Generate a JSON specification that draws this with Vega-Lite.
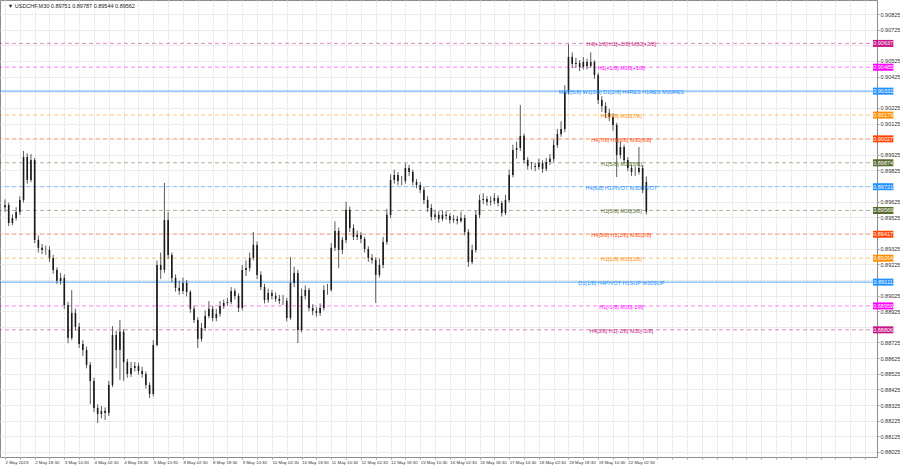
{
  "$schema": "https://vega.github.io/schema/vega-lite/v6.json",
  "width": 877,
  "height": 457,
  "autosize": {"type": "none"},
  "padding": {"left": 0, "top": 0, "right": 23, "bottom": 11},
  "background": "#ffffff",
  "config": {"view": {"stroke": "#8c8c8c", "strokeWidth": 1}, "font": "Liberation Sans"},
  "datasets": {
    "candles": [
      {"i":0,"o":0.89590,"h":0.89640,"l":0.89560,"c":0.89604},
      {"i":4,"o":0.89604,"h":0.89620,"l":0.89470,"c":0.89489},
      {"i":8,"o":0.89489,"h":0.89545,"l":0.89475,"c":0.89521},
      {"i":12,"o":0.89521,"h":0.89590,"l":0.89505,"c":0.89560},
      {"i":16,"o":0.89560,"h":0.89660,"l":0.89540,"c":0.89636},
      {"i":20,"o":0.89636,"h":0.89950,"l":0.89620,"c":0.89911},
      {"i":24,"o":0.89911,"h":0.89935,"l":0.89740,"c":0.89764},
      {"i":28,"o":0.89764,"h":0.89930,"l":0.89750,"c":0.89892},
      {"i":32,"o":0.89892,"h":0.89905,"l":0.89360,"c":0.89381},
      {"i":36,"o":0.89381,"h":0.89410,"l":0.89300,"c":0.89330},
      {"i":40,"o":0.89330,"h":0.89355,"l":0.89290,"c":0.89317},
      {"i":44,"o":0.89317,"h":0.89345,"l":0.89285,"c":0.89317},
      {"i":48,"o":0.89317,"h":0.89340,"l":0.89240,"c":0.89266},
      {"i":52,"o":0.89266,"h":0.89285,"l":0.89165,"c":0.89189},
      {"i":56,"o":0.89189,"h":0.89205,"l":0.89100,"c":0.89119},
      {"i":60,"o":0.89119,"h":0.89170,"l":0.89095,"c":0.89138},
      {"i":64,"o":0.89138,"h":0.89160,"l":0.88940,"c":0.88965},
      {"i":68,"o":0.88965,"h":0.88985,"l":0.88720,"c":0.88754},
      {"i":72,"o":0.88754,"h":0.89060,"l":0.88740,"c":0.88914},
      {"i":76,"o":0.88914,"h":0.88940,"l":0.88800,"c":0.88825},
      {"i":80,"o":0.88825,"h":0.88850,"l":0.88690,"c":0.88716},
      {"i":84,"o":0.88716,"h":0.88740,"l":0.88640,"c":0.88677},
      {"i":88,"o":0.88677,"h":0.88700,"l":0.88560,"c":0.88582},
      {"i":92,"o":0.88582,"h":0.88600,"l":0.88330,"c":0.88479},
      {"i":96,"o":0.88479,"h":0.88500,"l":0.88280,"c":0.88307},
      {"i":100,"o":0.88307,"h":0.88330,"l":0.88211,"c":0.88268},
      {"i":104,"o":0.88268,"h":0.88320,"l":0.88240,"c":0.88288},
      {"i":108,"o":0.88288,"h":0.88310,"l":0.88230,"c":0.88275},
      {"i":112,"o":0.88275,"h":0.88480,"l":0.88255,"c":0.88454},
      {"i":116,"o":0.88454,"h":0.88830,"l":0.88440,"c":0.88773},
      {"i":120,"o":0.88773,"h":0.88800,"l":0.88560,"c":0.88677},
      {"i":124,"o":0.88677,"h":0.88870,"l":0.88485,"c":0.88793},
      {"i":128,"o":0.88793,"h":0.88810,"l":0.88480,"c":0.88601},
      {"i":132,"o":0.88601,"h":0.88620,"l":0.88500,"c":0.88524},
      {"i":136,"o":0.88524,"h":0.88600,"l":0.88505,"c":0.88562},
      {"i":140,"o":0.88562,"h":0.88600,"l":0.88540,"c":0.88575},
      {"i":144,"o":0.88575,"h":0.88595,"l":0.88520,"c":0.88543},
      {"i":148,"o":0.88543,"h":0.88570,"l":0.88500,"c":0.88524},
      {"i":152,"o":0.88524,"h":0.88540,"l":0.88430,"c":0.88454},
      {"i":156,"o":0.88454,"h":0.88470,"l":0.88370,"c":0.88396},
      {"i":160,"o":0.88396,"h":0.88740,"l":0.88380,"c":0.88709},
      {"i":164,"o":0.88709,"h":0.89250,"l":0.88700,"c":0.89221},
      {"i":168,"o":0.89221,"h":0.89300,"l":0.89130,"c":0.89189},
      {"i":172,"o":0.89189,"h":0.89745,"l":0.89170,"c":0.89508},
      {"i":176,"o":0.89508,"h":0.89560,"l":0.89260,"c":0.89285},
      {"i":180,"o":0.89285,"h":0.89300,"l":0.89110,"c":0.89138},
      {"i":184,"o":0.89138,"h":0.89160,"l":0.89050,"c":0.89074},
      {"i":188,"o":0.89074,"h":0.89120,"l":0.89030,"c":0.89055},
      {"i":192,"o":0.89055,"h":0.89140,"l":0.89035,"c":0.89106},
      {"i":196,"o":0.89106,"h":0.89125,"l":0.89020,"c":0.89048},
      {"i":200,"o":0.89048,"h":0.89060,"l":0.88915,"c":0.88940},
      {"i":204,"o":0.88940,"h":0.88960,"l":0.88850,"c":0.88869},
      {"i":208,"o":0.88869,"h":0.88885,"l":0.88690,"c":0.88748},
      {"i":212,"o":0.88748,"h":0.88850,"l":0.88730,"c":0.88818},
      {"i":216,"o":0.88818,"h":0.88930,"l":0.88800,"c":0.88895},
      {"i":220,"o":0.88895,"h":0.88990,"l":0.88880,"c":0.88940},
      {"i":224,"o":0.88940,"h":0.88960,"l":0.88860,"c":0.88882},
      {"i":228,"o":0.88882,"h":0.88940,"l":0.88860,"c":0.88908},
      {"i":232,"o":0.88908,"h":0.88990,"l":0.88890,"c":0.88959},
      {"i":236,"o":0.88959,"h":0.89000,"l":0.88940,"c":0.88978},
      {"i":240,"o":0.88978,"h":0.89010,"l":0.88960,"c":0.88984},
      {"i":244,"o":0.88984,"h":0.89080,"l":0.88970,"c":0.89055},
      {"i":248,"o":0.89055,"h":0.89070,"l":0.89000,"c":0.89023},
      {"i":252,"o":0.89023,"h":0.89040,"l":0.88920,"c":0.88946},
      {"i":256,"o":0.88946,"h":0.89220,"l":0.88930,"c":0.89189},
      {"i":260,"o":0.89189,"h":0.89250,"l":0.89150,"c":0.89202},
      {"i":264,"o":0.89202,"h":0.89300,"l":0.89180,"c":0.89266},
      {"i":268,"o":0.89266,"h":0.89432,"l":0.89250,"c":0.89349},
      {"i":272,"o":0.89349,"h":0.89370,"l":0.89130,"c":0.89157},
      {"i":276,"o":0.89157,"h":0.89180,"l":0.89060,"c":0.89080},
      {"i":280,"o":0.89080,"h":0.89100,"l":0.88975,"c":0.88997},
      {"i":284,"o":0.88997,"h":0.89070,"l":0.88980,"c":0.89042},
      {"i":288,"o":0.89042,"h":0.89060,"l":0.89000,"c":0.89023},
      {"i":292,"o":0.89023,"h":0.89045,"l":0.88985,"c":0.89004},
      {"i":296,"o":0.89004,"h":0.89030,"l":0.88970,"c":0.88991},
      {"i":300,"o":0.88991,"h":0.89030,"l":0.88965,"c":0.88991},
      {"i":304,"o":0.88991,"h":0.89010,"l":0.88860,"c":0.88882},
      {"i":308,"o":0.88882,"h":0.89272,"l":0.88870,"c":0.89106},
      {"i":312,"o":0.89106,"h":0.89210,"l":0.89080,"c":0.89170},
      {"i":316,"o":0.89170,"h":0.89190,"l":0.88722,"c":0.88805},
      {"i":320,"o":0.88805,"h":0.89070,"l":0.88790,"c":0.89023},
      {"i":324,"o":0.89023,"h":0.89090,"l":0.89000,"c":0.89061},
      {"i":328,"o":0.89061,"h":0.89075,"l":0.88925,"c":0.88946},
      {"i":332,"o":0.88946,"h":0.88970,"l":0.88900,"c":0.88927},
      {"i":336,"o":0.88927,"h":0.88950,"l":0.88890,"c":0.88914},
      {"i":340,"o":0.88914,"h":0.88975,"l":0.88895,"c":0.88946},
      {"i":344,"o":0.88946,"h":0.89090,"l":0.88930,"c":0.89061},
      {"i":348,"o":0.89061,"h":0.89100,"l":0.89030,"c":0.89061},
      {"i":352,"o":0.89061,"h":0.89360,"l":0.89050,"c":0.89330},
      {"i":356,"o":0.89330,"h":0.89500,"l":0.89310,"c":0.89438},
      {"i":360,"o":0.89438,"h":0.89460,"l":0.89200,"c":0.89317},
      {"i":364,"o":0.89317,"h":0.89400,"l":0.89290,"c":0.89381},
      {"i":368,"o":0.89381,"h":0.89625,"l":0.89360,"c":0.89573},
      {"i":372,"o":0.89573,"h":0.89595,"l":0.89430,"c":0.89457},
      {"i":376,"o":0.89457,"h":0.89480,"l":0.89380,"c":0.89400},
      {"i":380,"o":0.89400,"h":0.89440,"l":0.89380,"c":0.89413},
      {"i":384,"o":0.89413,"h":0.89430,"l":0.89360,"c":0.89387},
      {"i":388,"o":0.89387,"h":0.89400,"l":0.89300,"c":0.89323},
      {"i":392,"o":0.89323,"h":0.89340,"l":0.89240,"c":0.89266},
      {"i":396,"o":0.89266,"h":0.89290,"l":0.89230,"c":0.89253},
      {"i":400,"o":0.89253,"h":0.89270,"l":0.88978,"c":0.89157},
      {"i":404,"o":0.89157,"h":0.89260,"l":0.89140,"c":0.89221},
      {"i":408,"o":0.89221,"h":0.89400,"l":0.89200,"c":0.89368},
      {"i":412,"o":0.89368,"h":0.89580,"l":0.89350,"c":0.89541},
      {"i":416,"o":0.89541,"h":0.89800,"l":0.89520,"c":0.89764},
      {"i":420,"o":0.89764,"h":0.89830,"l":0.89740,"c":0.89796},
      {"i":424,"o":0.89796,"h":0.89815,"l":0.89730,"c":0.89758},
      {"i":428,"o":0.89758,"h":0.89790,"l":0.89730,"c":0.89758},
      {"i":432,"o":0.89758,"h":0.89870,"l":0.89740,"c":0.89841},
      {"i":436,"o":0.89841,"h":0.89860,"l":0.89790,"c":0.89815},
      {"i":440,"o":0.89815,"h":0.89830,"l":0.89730,"c":0.89752},
      {"i":444,"o":0.89752,"h":0.89770,"l":0.89710,"c":0.89732},
      {"i":448,"o":0.89732,"h":0.89750,"l":0.89680,"c":0.89700},
      {"i":452,"o":0.89700,"h":0.89720,"l":0.89610,"c":0.89636},
      {"i":456,"o":0.89636,"h":0.89660,"l":0.89560,"c":0.89585},
      {"i":460,"o":0.89585,"h":0.89610,"l":0.89505,"c":0.89528},
      {"i":464,"o":0.89528,"h":0.89570,"l":0.89510,"c":0.89541},
      {"i":468,"o":0.89541,"h":0.89565,"l":0.89490,"c":0.89515},
      {"i":472,"o":0.89515,"h":0.89570,"l":0.89500,"c":0.89541},
      {"i":476,"o":0.89541,"h":0.89565,"l":0.89510,"c":0.89534},
      {"i":480,"o":0.89534,"h":0.89550,"l":0.89485,"c":0.89508},
      {"i":484,"o":0.89508,"h":0.89540,"l":0.89490,"c":0.89515},
      {"i":488,"o":0.89515,"h":0.89535,"l":0.89480,"c":0.89502},
      {"i":492,"o":0.89502,"h":0.89560,"l":0.89490,"c":0.89521},
      {"i":496,"o":0.89521,"h":0.89540,"l":0.89410,"c":0.89432},
      {"i":500,"o":0.89432,"h":0.89450,"l":0.89208,"c":0.89240},
      {"i":504,"o":0.89240,"h":0.89350,"l":0.89225,"c":0.89317},
      {"i":508,"o":0.89317,"h":0.89570,"l":0.89300,"c":0.89541},
      {"i":512,"o":0.89541,"h":0.89670,"l":0.89520,"c":0.89636},
      {"i":516,"o":0.89636,"h":0.89680,"l":0.89610,"c":0.89643},
      {"i":520,"o":0.89643,"h":0.89660,"l":0.89600,"c":0.89624},
      {"i":524,"o":0.89624,"h":0.89660,"l":0.89600,"c":0.89630},
      {"i":528,"o":0.89630,"h":0.89680,"l":0.89610,"c":0.89649},
      {"i":532,"o":0.89649,"h":0.89665,"l":0.89595,"c":0.89617},
      {"i":536,"o":0.89617,"h":0.89630,"l":0.89530,"c":0.89553},
      {"i":540,"o":0.89553,"h":0.89670,"l":0.89540,"c":0.89636},
      {"i":544,"o":0.89636,"h":0.89830,"l":0.89620,"c":0.89796},
      {"i":548,"o":0.89796,"h":0.89990,"l":0.89780,"c":0.89956},
      {"i":552,"o":0.89956,"h":0.90010,"l":0.89900,"c":0.89969},
      {"i":556,"o":0.89969,"h":0.90244,"l":0.89950,"c":0.90046},
      {"i":560,"o":0.90046,"h":0.90060,"l":0.89870,"c":0.89892},
      {"i":564,"o":0.89892,"h":0.89910,"l":0.89830,"c":0.89854},
      {"i":568,"o":0.89854,"h":0.89880,"l":0.89830,"c":0.89854},
      {"i":572,"o":0.89854,"h":0.89875,"l":0.89820,"c":0.89847},
      {"i":576,"o":0.89847,"h":0.89900,"l":0.89830,"c":0.89873},
      {"i":580,"o":0.89873,"h":0.89890,"l":0.89810,"c":0.89835},
      {"i":584,"o":0.89835,"h":0.89905,"l":0.89820,"c":0.89879},
      {"i":588,"o":0.89879,"h":0.89930,"l":0.89860,"c":0.89899},
      {"i":592,"o":0.89899,"h":0.90020,"l":0.89880,"c":0.89988},
      {"i":596,"o":0.89988,"h":0.90090,"l":0.89970,"c":0.90058},
      {"i":600,"o":0.90058,"h":0.90140,"l":0.90040,"c":0.90090},
      {"i":604,"o":0.90090,"h":0.90370,"l":0.90070,"c":0.90327},
      {"i":608,"o":0.90327,"h":0.90632,"l":0.90310,"c":0.90551},
      {"i":612,"o":0.90551,"h":0.90580,"l":0.90480,"c":0.90506},
      {"i":616,"o":0.90506,"h":0.90545,"l":0.90480,"c":0.90512},
      {"i":620,"o":0.90512,"h":0.90530,"l":0.90460,"c":0.90487},
      {"i":624,"o":0.90487,"h":0.90550,"l":0.90470,"c":0.90519},
      {"i":628,"o":0.90519,"h":0.90540,"l":0.90470,"c":0.90493},
      {"i":632,"o":0.90493,"h":0.90580,"l":0.90480,"c":0.90519},
      {"i":636,"o":0.90519,"h":0.90530,"l":0.90410,"c":0.90435},
      {"i":640,"o":0.90435,"h":0.90450,"l":0.90250,"c":0.90276},
      {"i":644,"o":0.90276,"h":0.90300,"l":0.90200,"c":0.90237},
      {"i":648,"o":0.90237,"h":0.90260,"l":0.90160,"c":0.90193},
      {"i":652,"o":0.90193,"h":0.90220,"l":0.90140,"c":0.90167},
      {"i":656,"o":0.90167,"h":0.90190,"l":0.90080,"c":0.90116},
      {"i":660,"o":0.90116,"h":0.90130,"l":0.89783,"c":0.89924},
      {"i":664,"o":0.89924,"h":0.90010,"l":0.89900,"c":0.89975},
      {"i":668,"o":0.89975,"h":0.89990,"l":0.89870,"c":0.89892},
      {"i":672,"o":0.89892,"h":0.89910,"l":0.89820,"c":0.89841},
      {"i":676,"o":0.89841,"h":0.89860,"l":0.89790,"c":0.89815},
      {"i":680,"o":0.89815,"h":0.89850,"l":0.89790,"c":0.89815},
      {"i":684,"o":0.89815,"h":0.89975,"l":0.89800,"c":0.89841},
      {"i":688,"o":0.89841,"h":0.89860,"l":0.89680,"c":0.89700},
      {"i":692,"o":0.89751,"h":0.89787,"l":0.89544,"c":0.89562}
    ],
    "levels": [
      {"p":0.90637,"tag":"0.90637","grp":"ext","label":"H4[+1/8] H1[+2/8] M30[+2/8]"},
      {"p":0.90485,"tag":"0.90485","grp":"over","label":"H1[+1/8] M30[+1/8]"},
      {"p":0.90332,"tag":"0.90332","grp":"major","label":"MN1[5/8] W1[3/8] D1[2/8] H4RES H1RES M30RES"},
      {"p":0.90179,"tag":"0.90179","grp":"weak","label":"H1[7/8] M30[7/8]"},
      {"p":0.90027,"tag":"0.90027","grp":"strong","label":"H4[7/8] H1[6/8] M30[6/8]"},
      {"p":0.89874,"tag":"0.89874","grp":"mid","label":"H1[5/8] M30[5/8]"},
      {"p":0.89721,"tag":"0.89721","grp":"pivot","label":"H4[6/8] H1PIVOT M30PIVOT"},
      {"p":0.89569,"tag":"0.89569","grp":"mid","label":"H1[3/8] M30[3/8]"},
      {"p":0.89417,"tag":"0.89417","grp":"strong","label":"H4[5/8] H1[2/8] M30[2/8]"},
      {"p":0.89264,"tag":"0.89264","grp":"weak","label":"H1[1/8] M30[1/8]"},
      {"p":0.89111,"tag":"0.89111","grp":"major","label":"D1[1/8] H4PIVOT H1SUP M30SUP"},
      {"p":0.88959,"tag":"0.88959","grp":"over","label":"H1[-1/8] M30[-1/8]"},
      {"p":0.88806,"tag":"0.88806","grp":"ext","label":"H4[3/8] H1[-2/8] M30[-2/8]"}
    ],
    "header": [
      {"t":"\u25bc  USDCHF,M30  0.89751 0.89787 0.89544 0.89562"}
    ]
  },
  "encoding": {
    "x": {"type": "quantitative", "scale": {"domain": [0, 935.47], "nice": false, "zero": false},
      "axis": {"orient": "bottom", "values": [0,16,32,48,64,80,96,112,128,144,160,176,192,208,224,240,256,272,288,304,320,336,352,368,384,400,416,432,448,464,480,496,512,528,544,560,576,592,608,624,640,656,672,688,704,720,736,752,768,784,800,816,832,848,864,880,896,912,928],
        "labelExpr": "(datum.value % 32 == 0 && datum.value <= 672) ? ['2 May 2023','2 May 18:30','3 May 10:30','4 May 02:30','4 May 18:30','5 May 10:30','8 May 02:30','8 May 18:30','9 May 10:30','10 May 02:30','10 May 18:30','11 May 10:30','12 May 02:30','12 May 18:30','15 May 10:30','16 May 02:30','16 May 18:30','17 May 10:30','18 May 02:30','18 May 18:30','19 May 10:30','22 May 02:30'][datum.value / 32] : ''",
        "grid": true, "gridColor": "#e6e6e6", "gridDash": [3, 1], "domain": false, "ticks": true, "tickSize": 2, "tickColor": "#999999",
        "labelAlign": "left", "labelPadding": 1, "labelFontSize": 4.4, "labelColor": "#333333", "labelOverlap": false, "labelFlush": false, "title": null}},
    "y": {"type": "quantitative", "scale": {"domain": [0.87993, 0.909146], "nice": false, "zero": false},
      "axis": {"orient": "right", "values": [0.88025,0.88125,0.88225,0.88325,0.88425,0.88525,0.88625,0.88725,0.88825,0.88925,0.89025,0.89125,0.89225,0.89325,0.89425,0.89525,0.89625,0.89725,0.89825,0.89925,0.90025,0.90125,0.90225,0.90325,0.90425,0.90525,0.90625,0.90725,0.90825],
        "format": ".5f",
        "labelExpr": "indexof(['0.90625','0.90325','0.90025','0.89725','0.89425','0.89125','0.88825'], datum.label) >= 0 ? '' : datum.label",
        "grid": true, "gridColor": "#e6e6e6", "gridDash": [3, 1], "domain": false, "ticks": true, "tickSize": 2, "tickColor": "#999999",
        "labelPadding": 1, "labelFontSize": 5.5, "labelColor": "#333333", "labelOverlap": false, "labelBaseline": "middle", "labelFlush": false, "title": null}}
  },
  "layer": [
    {
      "data": {"name": "levels"},
      "transform": [{"filter": "datum.grp != 'major'"}],
      "mark": {"type": "rule", "strokeDash": [4, 3], "strokeWidth": 1, "opacity": 0.5},
      "encoding": {
        "y": {"field": "p"},
        "color": {"field": "grp", "type": "nominal", "legend": null,
          "scale": {"domain": ["ext", "over", "major", "weak", "strong", "mid", "pivot"], "range": ["#C71585", "#FF00FF", "#1E90FF", "#FF8C00", "#FF4500", "#556B2F", "#1E90FF"]}}
      }
    },
    {
      "data": {"name": "levels"},
      "transform": [{"filter": "datum.grp == 'major'"}],
      "mark": {"type": "rule", "strokeWidth": 1.3, "opacity": 0.6},
      "encoding": {
        "y": {"field": "p"},
        "color": {"field": "grp", "type": "nominal", "legend": null}
      }
    },
    {
      "data": {"name": "candles"},
      "mark": {"type": "rule", "color": "#5a5a5a", "strokeWidth": 1},
      "encoding": {
        "x": {"field": "i"},
        "y": {"field": "l"},
        "y2": {"field": "h"}
      }
    },
    {
      "data": {"name": "candles"},
      "mark": {"type": "bar", "width": 1.6, "color": "#1a1a1a"},
      "encoding": {
        "x": {"field": "i"},
        "y": {"field": "o"},
        "y2": {"field": "c"}
      }
    },
    {
      "data": {"name": "levels"},
      "mark": {"type": "text", "fontSize": 5.5, "align": "center", "baseline": "middle", "dy": 1},
      "encoding": {
        "x": {"datum": 665},
        "y": {"field": "p"},
        "text": {"field": "label"},
        "color": {"field": "grp", "type": "nominal", "legend": null}
      }
    },
    {
      "data": {"name": "levels"},
      "mark": {"type": "rule", "strokeWidth": 7, "strokeCap": "butt"},
      "encoding": {
        "x": {"datum": 936.5},
        "x2": {"datum": 958.5},
        "y": {"field": "p"},
        "color": {"field": "grp", "type": "nominal", "legend": null}
      }
    },
    {
      "data": {"name": "levels"},
      "mark": {"type": "text", "fontSize": 5.5, "align": "center", "baseline": "middle", "color": "#ffffff"},
      "encoding": {
        "x": {"datum": 947.5},
        "y": {"field": "p"},
        "text": {"field": "tag"}
      }
    },
    {
      "data": {"name": "header"},
      "mark": {"type": "text", "fontSize": 5.5, "align": "left", "baseline": "middle", "color": "#222222"},
      "encoding": {
        "x": {"datum": 3},
        "y": {"datum": 0.90875},
        "text": {"field": "t"}
      }
    }
  ]
}
